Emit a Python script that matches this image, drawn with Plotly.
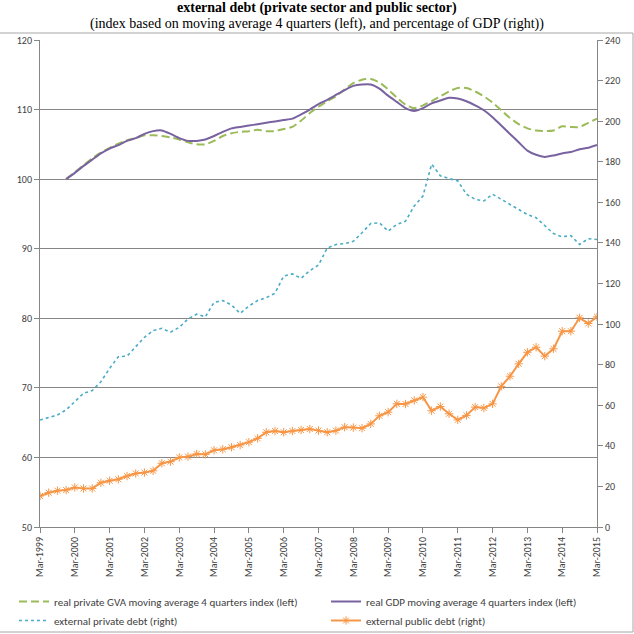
import plotly.graph_objects as go

months = ["Mar", "Jun", "Sep", "Dec"]
quarters = [f"{m}-{y}" for y in range(1999, 2016) for m in months][:65]

gva_index = [None, None, None,
    100.0, 101.0, 102.0, 103.0, 103.8, 104.5, 105.1, 105.6, 105.9, 106.3, 106.3, 106.2, 106.0,
    105.7, 105.3, 105.0, 105.0, 105.5, 106.2, 106.6, 106.8, 106.9, 107.1, 106.9, 106.9, 107.2,
    107.5, 108.4, 109.5, 110.4, 111.2, 111.9, 112.9, 113.8, 114.3, 114.4, 113.9, 112.9, 111.7,
    110.7, 110.2, 110.6, 111.2, 111.9, 112.6, 113.1, 113.1, 112.6, 111.9, 111.0, 109.9, 108.8,
    107.9, 107.3, 107.0, 106.9, 107.0, 107.6, 107.5, 107.5, 108.1, 108.7]

gdp_index = [None, None, None,
    100.0, 100.9, 101.9, 102.8, 103.7, 104.4, 104.9, 105.5, 105.9, 106.5, 106.9, 107.0, 106.5,
    105.9, 105.5, 105.5, 105.7, 106.2, 106.8, 107.3, 107.5, 107.7, 107.9, 108.1, 108.3, 108.5,
    108.7, 109.3, 110.0, 110.8, 111.4, 112.1, 112.8, 113.4, 113.6, 113.6, 113.0, 112.0, 111.1,
    110.2, 109.8, 110.2, 110.9, 111.3, 111.7, 111.6, 111.2, 110.6, 109.9, 108.9, 107.7, 106.5,
    105.3, 104.1, 103.5, 103.2, 103.4, 103.7, 103.9, 104.3, 104.5, 104.9]

private_debt = [
    52.7, 53.9, 55.2, 57.7, 61.8, 65.9, 67.2, 71.6, 78.2, 83.9,
    84.2, 88.8, 93.5, 96.8, 97.9, 96.0, 98.4, 102.5, 104.9, 103.6,
    110.7, 111.6, 109.4, 105.3, 108.9, 111.6, 113.0, 115.2, 123.7, 124.7,
    122.6, 126.3, 129.1, 137.5, 139.2, 139.7, 140.8, 145.0, 149.6, 149.9,
    145.8, 149.1, 150.7, 158.2, 163.1, 178.8, 173.1, 171.7, 170.6, 164.0,
    161.5, 160.7, 164.0, 161.5, 159.0, 156.5, 154.0, 152.4, 148.3, 144.6,
    143.0, 143.6, 139.2, 142.1, 141.7]

public_debt = [
    15.3, 16.9, 17.9, 18.2, 19.5, 19.0, 19.0, 21.8, 22.8, 23.5,
    25.1, 26.4, 26.8, 27.7, 31.4, 32.2, 34.3, 34.7, 36.0, 35.8,
    37.8, 38.3, 39.3, 40.4, 41.8, 43.7, 46.7, 47.3, 46.7, 47.3,
    47.8, 48.3, 47.5, 46.7, 47.5, 49.2, 49.0, 48.7, 50.8, 54.8,
    56.6, 60.7, 60.6, 62.4, 64.0, 57.3, 59.4, 55.8, 52.8, 55.0,
    59.1, 58.6, 60.7, 69.3, 74.3, 80.4, 86.1, 88.6, 84.2, 87.8,
    96.5, 96.5, 103.1, 100.3, 103.6]

tick_labels = quarters[::4]

names = ["real private GVA moving average 4 quarters index (left)",
         "real GDP moving average 4 quarters index (left)",
         "external private debt (right)",
         "external public debt (right)"]

fig = go.Figure()
fig.add_trace(go.Scatter(x=quarters, y=gva_index, name=names[0], mode="lines", legend="legend",
                         line=dict(color="#9BBB59", width=2, dash="8px,4px", shape="spline", smoothing=0.6)))
fig.add_trace(go.Scatter(x=quarters, y=gdp_index, name=names[1], mode="lines", legend="legend2",
                         line=dict(color="#7962A0", width=2, shape="spline", smoothing=0.6)))
fig.add_trace(go.Scatter(x=quarters, y=private_debt, name=names[2], mode="lines", yaxis="y2", legend="legend",
                         line=dict(color="#4BACC6", width=1.6, dash="dot")))
fig.add_trace(go.Scatter(x=quarters, y=public_debt, name=names[3], mode="lines+markers", yaxis="y2",
                         legend="legend2",
                         line=dict(color="#F79646", width=2),
                         marker=dict(symbol="asterisk-open", size=7, color="#F79646",
                                     line=dict(color="#F79646", width=1))))

font_fam = "Carlito, Liberation Sans Narrow, Noto Sans, sans-serif"
tick_font = dict(family=font_fam, size=10, color="#404040")
leg_font = dict(family=font_fam, size=11, color="#404040")

L, R, T, B = 40, 37, 40, 107
W = H = 634
pw, ph = W - L - R, H - T - B


def px_x(x):
    return (x - L) / pw


def px_y(y):
    return (H - B - y) / ph


fig.update_layout(
    width=W, height=H,
    margin=dict(l=L, r=R, t=T, b=B, autoexpand=False),
    paper_bgcolor="white", plot_bgcolor="white",
    showlegend=True,
    legend=dict(orientation="v", x=px_x(14), y=px_y(587), xanchor="left", yanchor="top",
                font=leg_font, tracegroupgap=0, itemwidth=30, bgcolor="rgba(0,0,0,0)"),
    legend2=dict(orientation="v", x=px_x(326), y=px_y(587), xanchor="left", yanchor="top",
                 font=leg_font, tracegroupgap=0, itemwidth=30, bgcolor="rgba(0,0,0,0)"),
    xaxis=dict(type="category", categoryorder="array", categoryarray=quarters,
               range=[0, 64], tickmode="array", tickvals=tick_labels, ticktext=tick_labels,
               tickangle=-90, tickfont=tick_font, ticks="outside", ticklen=5, tickcolor="#868686",
               showline=True, linecolor="#868686", linewidth=1, showgrid=False, zeroline=False),
    yaxis=dict(range=[50, 120], dtick=10, tickfont=tick_font, ticks="outside", ticklen=5,
               tickcolor="#868686", showline=True, linecolor="#868686", linewidth=1,
               showgrid=True, gridcolor="#868686", gridwidth=1, zeroline=False),
    yaxis2=dict(range=[0, 240], dtick=20, overlaying="y", side="right", tickfont=tick_font,
                ticks="outside", ticklen=5, tickcolor="#868686", showline=True,
                linecolor="#868686", linewidth=1, showgrid=False, zeroline=False),
    annotations=[
        dict(text="<b>external debt (private sector and public sector)</b>", xref="paper", yref="paper",
             x=px_x(317), y=px_y(8), xanchor="center", yanchor="middle", showarrow=False,
             font=dict(family="Liberation Serif, serif", size=14, color="black")),
        dict(text="(index based on moving average 4 quarters (left), and percentage of GDP (right))",
             xref="paper", yref="paper", x=px_x(317), y=px_y(24), xanchor="center", yanchor="middle",
             showarrow=False, font=dict(family="Liberation Serif, serif", size=14, color="black")),
    ],
    shapes=[dict(type="rect", xref="paper", yref="paper", x0=px_x(-5), x1=px_x(633),
                 y0=px_y(632), y1=px_y(33), line=dict(color="#A6A6A6", width=1), layer="below")],
)

fig.write_html("out.html")
